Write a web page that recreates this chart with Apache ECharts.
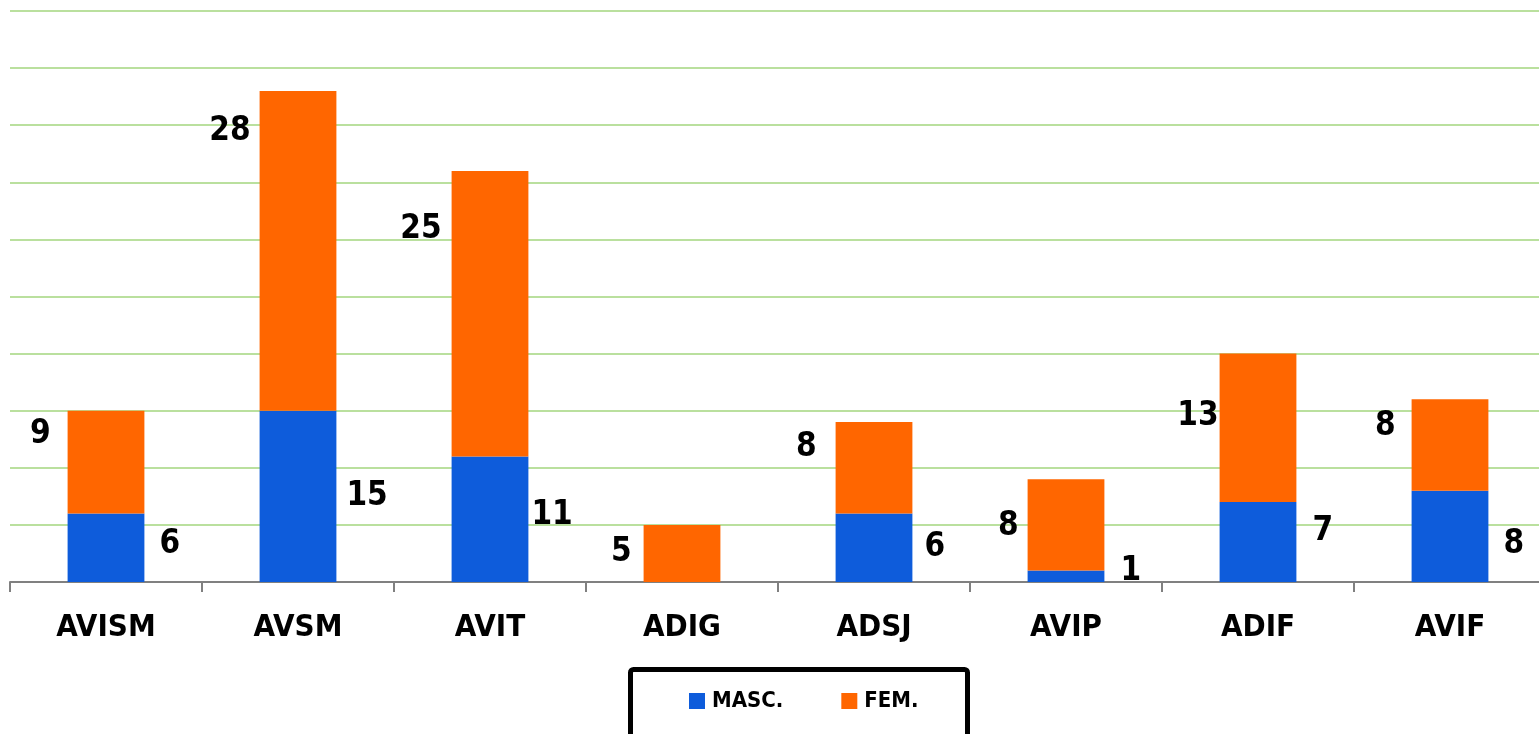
<!DOCTYPE html>
<html>
<head>
<meta charset="utf-8">
<script src="https://cdn.jsdelivr.net/npm/echarts@6/dist/echarts.min.js"></script>
<style>
html,body{margin:0;padding:0;background:#fff;overflow:hidden;}
#chart{width:1546px;height:734px;}
</style>
</head>
<body>
<div id="chart"></div>
<script>
// ---- data ----
const categories = ['AVISM', 'AVSM', 'AVIT', 'ADIG', 'ADSJ', 'AVIP', 'ADIF', 'AVIF'];
const masc = [6, 15, 11, 0, 6, 1, 7, 8];
const fem = [9, 28, 25, 5, 8, 8, 13, 8];
const seriesNames = ['MASC.', 'FEM.'];

// ---- label placement (layout only) ----
// FEM labels: [gap left of bar, y from bar top]
const femLabelPos = [[17, 24], [9, 40], [10, 59], [12, 28], [19, 25.5], [9, 47], [1, 62.5], [16, 27.5]];
// MASC labels: [gap right of bar, y offset from segment middle]
const mascLabelPos = [[15, -3], [10, 0], [3, -4], [15, 0], [12, 0], [16, -5], [16, -11], [15, 8]];

const FONT = '"Liberation Sans Narrow", "DejaVu Sans Condensed", "Arial Narrow", sans-serif';
const BLUE = '#0E5CDB';
const ORANGE = '#FF6600';

const chart = echarts.init(document.getElementById('chart'));

const mascData = masc.map((v, i) => ({
  value: v,
  label: {
    show: v > 0,
    position: ['100%', '50%'],
    offset: [mascLabelPos[i][0], mascLabelPos[i][1]],
    align: 'left',
    verticalAlign: 'middle'
  }
}));
const femData = fem.map((v, i) => ({
  value: v,
  label: {
    show: true,
    position: [0, 0],
    offset: [-femLabelPos[i][0], femLabelPos[i][1]],
    align: 'right',
    verticalAlign: 'middle'
  }
}));

const labelStyle = {
  color: '#000',
  fontFamily: FONT,
  fontWeight: 'bold',
  fontSize: 33
};

chart.setOption({
  animation: false,
  backgroundColor: '#fff',
  grid: { left: 10, right: 0, top: 11, bottom: 152, containLabel: false },
  xAxis: {
    type: 'category',
    data: categories,
    axisLine: { show: true, lineStyle: { color: '#808080', width: 2 } },
    axisTick: { show: true, length: 10, lineStyle: { color: '#808080', width: 2 } },
    axisLabel: {
      color: '#000',
      fontFamily: FONT,
      fontWeight: 'bold',
      fontSize: 31,
      margin: 30
    },
    splitLine: { show: false }
  },
  yAxis: {
    type: 'value',
    min: 0,
    max: 50,
    interval: 5,
    axisLine: { show: false },
    axisTick: { show: false },
    axisLabel: { show: false },
    splitLine: { show: true, lineStyle: { color: '#A3D67E', width: 1.5 } }
  },
  legend: {
    left: 689,
    top: 690,
    padding: 0,
    itemWidth: 16,
    itemHeight: 16,
    itemGap: 58,
    icon: 'rect',
    textStyle: {
      color: '#000',
      fontFamily: FONT,
      fontWeight: 'bold',
      fontSize: 22,
      padding: [0, 0, 0, 2]
    },
    data: seriesNames
  },
  graphic: [{
    type: 'rect',
    left: 628,
    top: 667,
    shape: { width: 337, height: 90, r: 3 },
    style: { fill: 'none', stroke: '#000', lineWidth: 5 },
    z: 10
  }],
  series: [
    {
      name: seriesNames[0],
      type: 'bar',
      stack: 'total',
      barWidth: '40%',
      itemStyle: { color: BLUE },
      label: labelStyle,
      data: mascData
    },
    {
      name: seriesNames[1],
      type: 'bar',
      stack: 'total',
      barWidth: '40%',
      itemStyle: { color: ORANGE },
      label: labelStyle,
      data: femData
    }
  ]
});
</script>
</body>
</html>
